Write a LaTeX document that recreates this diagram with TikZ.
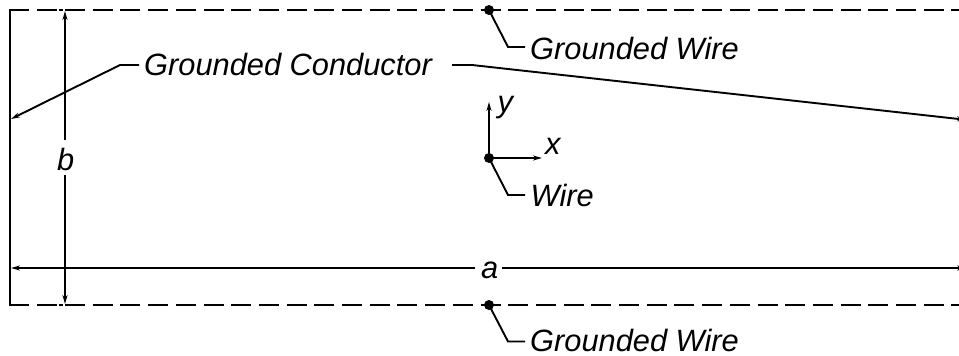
\documentclass[tikz,border=0pt]{standalone}
\usepackage{fontspec}
\setmainfont{Liberation Sans}
\usetikzlibrary{arrows.meta}
\tikzset{
  lab/.style={inner sep=0pt,anchor=base west,font=\fontsize{30.8}{32}\selectfont\itshape,text=black},
  ln/.style={line width=1.9pt,black},
  tip/.style={ln,-{Stealth[length=9pt,width=5pt]}},
  dot/.style={circle,fill=black,inner sep=0pt,minimum size=10pt},
  dsh/.style={ln,dash pattern=on 20pt off 7.7pt}
}
\begin{document}
\begin{tikzpicture}[x=1pt,y=-1pt]
\useasboundingbox (0,0) rectangle (959,356);
% frame
\coordinate (tl) at (10,10); \coordinate (bl) at (10,305);
\coordinate (tl1) at (28.5,10); \coordinate (bl1) at (28.5,305);
\coordinate (tr) at (959,10); \coordinate (br) at (959,305);
\draw[ln] (tl1) -- (tl) -- (bl) -- (bl1);
\draw[ln] (37,10) -- (57,10) (59,10) -- (63,10);
\draw[ln] (37,305) -- (57,305) (59,305) -- (63,305);
\draw[dsh] (65,10) -- (tr);
\draw[dsh] (65,305) -- (br);
% wires
\node[dot] (wt) at (489,10) {};
\node[dot] (wm) at (489,158) {};
\node[dot] (wb) at (489,305) {};
% labels
\node[lab] (gc) at (144,75) {Grounded Conductor};
\node[lab] (gwt) at (530,59) {Grounded Wire};
\node[lab] (gwb) at (530,351.5) {Grounded Wire};
\node[lab] (w) at (530.5,206) {Wire};
\node[lab] (ly) at (497.5,112) {y};
\node[lab] (lx) at (545,154) {x};
\node[lab] (lb) at (57,170) {b};
\node[lab] (la) at (481,278) {a};
% conductor leaders
\coordinate (cl) at (11,119); \coordinate (cr) at (966,119.8);
\coordinate (k1) at (120,65); \coordinate (k2) at (472,65); \coordinate (s2) at (452,65);
\draw[tip] (gc.west |- k1) ++(-5,0) -- (k1) -- (cl);
\draw[tip] (s2) -- (k2) -- (cr);
% dimensions
\coordinate (bt) at (65,11); \coordinate (bb) at (65,304);
\coordinate (al) at (11,268); \coordinate (ar) at (966,268);
\draw[tip] (65,140) -- (bt);
\draw[tip] (65,175) -- (bb);
\draw[tip] (475,268) -- (al);
\draw[tip] (502,268) -- (ar);
% axes
\coordinate (ay) at (489,102); \coordinate (ax) at (542,158);
\draw[tip] (wm.center) -- (ay);
\draw[tip] (wm.center) -- (ax);
% wire leaders
\draw[ln] (wt.center) -- (508,47) -- (525,47);
\draw[ln] (wm.center) -- (508,195) -- (525,195);
\draw[ln] (wb.center) -- (508,341.5) -- (525,341.5);
\end{tikzpicture}
\end{document}
